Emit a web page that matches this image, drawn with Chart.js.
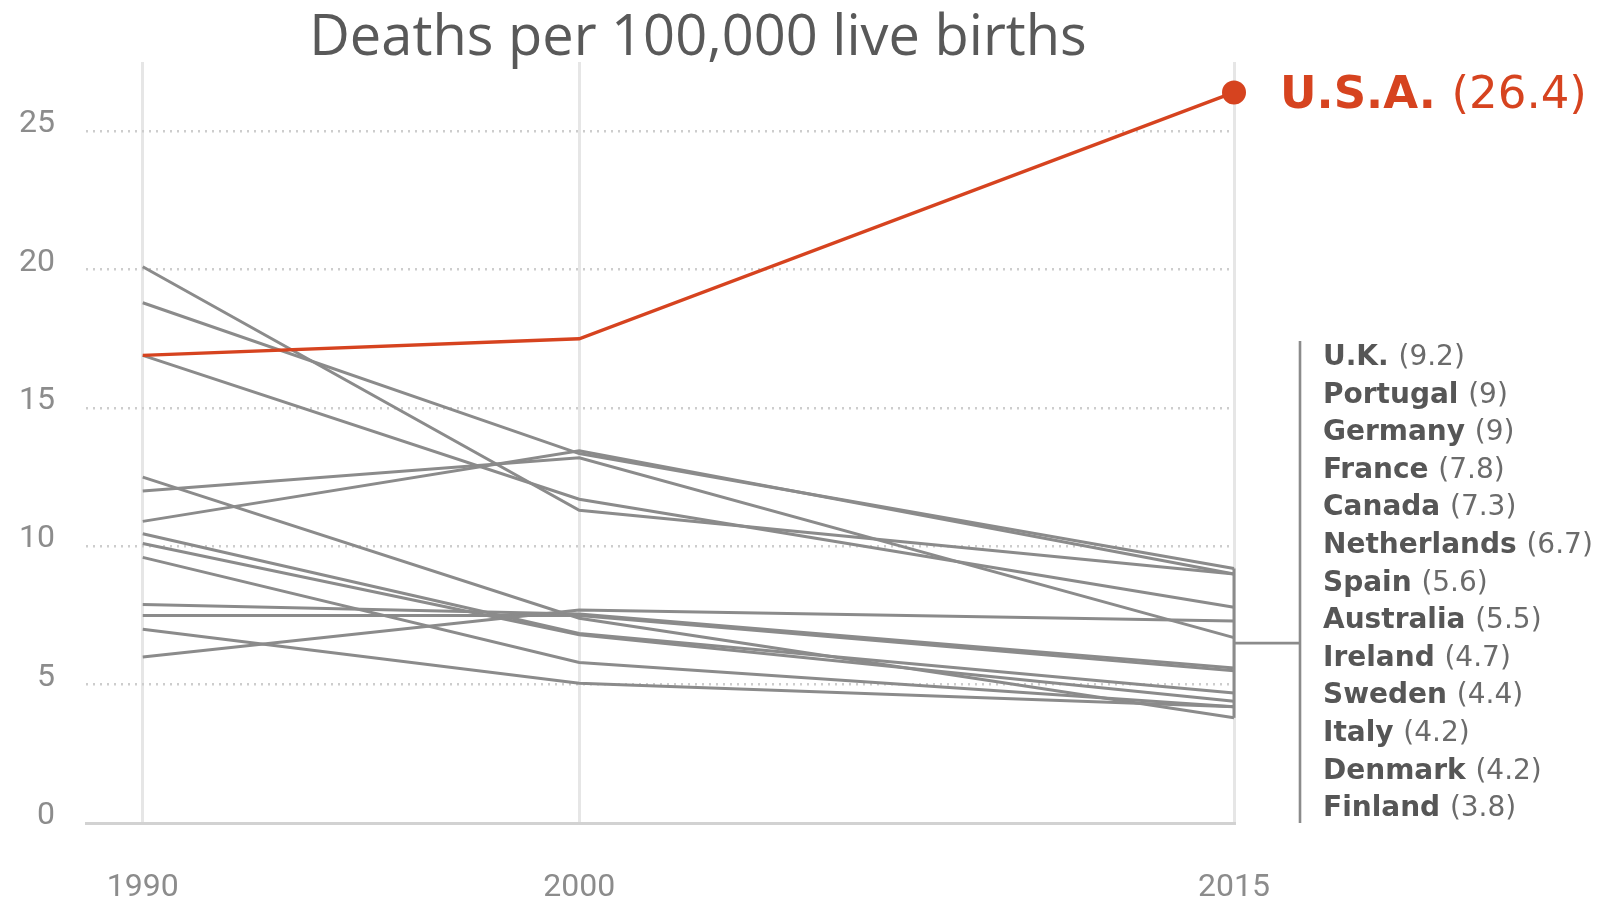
<!DOCTYPE html>
<html>
<head>
<meta charset="utf-8">
<title>Deaths per 100,000 live births</title>
<script src="https://cdn.jsdelivr.net/npm/chart.js@4"></script>
<style>
  html, body { margin: 0; padding: 0; background: #fff; }
  #wrap { width: 1609px; height: 903px; }
</style>
</head>
<body>
<div id="wrap"><canvas id="chart" width="1609" height="903"></canvas></div>
<script>
// Data
const years = [1990, 2000, 2015];
const yTicks = [0, 5, 10, 15, 20, 25];

const usaName = 'U.S.A.';
const usaValues = [16.9, 17.5, 26.4];

const countries = ['U.K.', 'Portugal', 'Germany', 'France', 'Canada', 'Netherlands',
  'Spain', 'Australia', 'Ireland', 'Sweden', 'Italy', 'Denmark', 'Finland'];
const v1990 = [18.8, 10.9, 20.1, 16.9, 6.0, 12.0, 7.9, 7.5, 10.45, 10.1, 9.6, 7.0, 12.5];
const v2000 = [13.35, 13.45, 11.3, 11.7, 7.7, 13.2, 7.55, 7.5, 6.85, 6.8, 5.8, 5.05, 7.4];
const v2015 = [9.2, 9.0, 9.0, 7.8, 7.3, 6.7, 5.6, 5.5, 4.7, 4.4, 4.2, 4.2, 3.8];

const titleText = 'Deaths per 100,000 live births';

const usaColor = '#d6431f';
const grayLine = '#8b8b8b';

const toPoints = (vals) => years.map((yr, i) => ({ x: yr, y: vals[i] }));

const datasets = [
  {
    label: usaName,
    data: toPoints(usaValues),
    borderColor: usaColor,
    backgroundColor: usaColor,
    borderWidth: 3.4,
    pointRadius: [0, 0, 12],
    pointHoverRadius: [0, 0, 12],
    pointBorderWidth: 0,
    tension: 0,
    clip: false,
  },
];
countries.forEach((name, i) => {
  datasets.push({
    label: name,
    data: toPoints([v1990[i], v2000[i], v2015[i]]),
    borderColor: grayLine,
    borderWidth: 3,
    pointRadius: 0,
    tension: 0,
    clip: false,
  });
});

// labels, title and bracket
const labelPlugin = {
  id: 'labels',
  afterDatasetsDraw(chart) {
    const ctx = chart.ctx;
    const xs = chart.scales.x;
    const ys = chart.scales.y;
    const xEnd = xs.getPixelForValue(years[years.length - 1]);

    ctx.save();

    // connector over the 2015 end points
    const hi = Math.max(...v2015);
    const lo = Math.min(...v2015);
    ctx.strokeStyle = grayLine;
    ctx.lineWidth = 3;
    ctx.beginPath();
    ctx.moveTo(xEnd, ys.getPixelForValue(hi));
    ctx.lineTo(xEnd, ys.getPixelForValue(lo));
    ctx.stroke();

    // bracket
    const bx = xEnd + 66;
    const midY = ys.getPixelForValue((hi + lo) / 2);
    const firstBase = 365;
    const step = 37.6;
    ctx.lineWidth = 2.6;
    ctx.beginPath();
    ctx.moveTo(xEnd, midY);
    ctx.lineTo(bx, midY);
    ctx.moveTo(bx, firstBase - 24);
    ctx.lineTo(bx, ys.getPixelForValue(0));
    ctx.stroke();

    // country labels
    ctx.textBaseline = 'alphabetic';
    ctx.textAlign = 'left';
    countries.forEach((name, i) => {
      const y = firstBase + i * step;
      const x = xEnd + 89;
      ctx.font = 'bold 28px "DejaVu Sans"';
      ctx.fillStyle = '#565656';
      ctx.fillText(name, x, y);
      const w = ctx.measureText(name + ' ').width;
      ctx.font = '28px "DejaVu Sans"';
      ctx.fillStyle = '#6b6b6b';
      ctx.fillText('(' + v2015[i] + ')', x + w, y);
    });

    // USA label
    const ux = xEnd + 46;
    const uy = 108;
    ctx.font = 'bold 45px "DejaVu Sans"';
    ctx.fillStyle = usaColor;
    ctx.fillText(usaName, ux, uy);
    const uw = ctx.measureText(usaName + ' ').width;
    ctx.font = '45px "DejaVu Sans"';
    ctx.fillText('(' + usaValues[usaValues.length - 1] + ')', ux + uw, uy);

    // title
    ctx.font = '56px "Open Sans"';
    ctx.fillStyle = '#595959';
    ctx.textAlign = 'center';
    ctx.fillText(titleText, 698, 55);

    ctx.restore();
  },
};

new Chart(document.getElementById('chart'), {
  type: 'line',
  data: { datasets },
  options: {
    responsive: false,
    animation: false,
    events: [],
    layout: { padding: { top: 62, right: 375, bottom: 0, left: 0 } },
    plugins: {
      legend: { display: false },
      tooltip: { enabled: false },
      title: { display: false },
    },
    scales: {
      x: {
        type: 'linear',
        min: 1988.7,
        max: 2015,
        afterBuildTicks: (scale) => {
          scale.ticks = years.map((v) => ({ value: v }));
        },
        afterFit: (scale) => {
          scale.height = 80;
        },
        grid: {
          color: '#e6e6e6',
          lineWidth: 3,
          drawTicks: false,
        },
        border: { display: true, color: '#d2d2d2', width: 3 },
        ticks: {
          padding: 46,
          maxRotation: 0,
          autoSkip: false,
          color: '#8c8c8c',
          font: { family: 'Roboto', size: 32 },
          callback: (v) => String(v),
        },
      },
      y: {
        type: 'linear',
        min: 0,
        max: 27.5,
        afterBuildTicks: (scale) => {
          scale.ticks = yTicks.map((v) => ({ value: v }));
        },
        afterFit: (scale) => {
          scale.width = 86;
        },
        grid: {
          color: (c) => (c.tick && c.tick.value === 0 ? 'rgba(0,0,0,0)' : '#cdcdcd'),
          lineWidth: 2.5,
          drawTicks: false,
        },
        border: { display: false, dash: [2, 5] },
        ticks: {
          padding: 31,
          labelOffset: -7,
          color: '#8c8c8c',
          font: { family: 'Roboto', size: 32 },
        },
      },
    },
  },
  plugins: [labelPlugin],
});
</script>
</body>
</html>
